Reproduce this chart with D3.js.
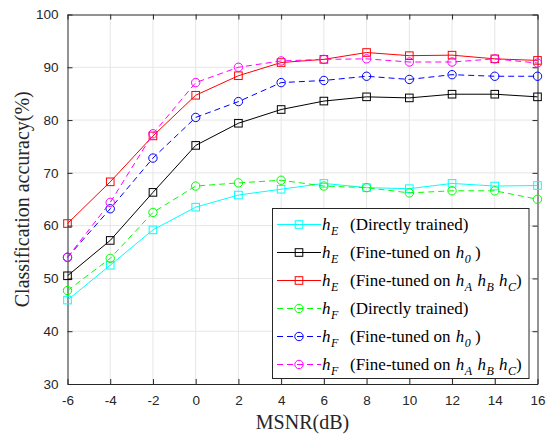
<!DOCTYPE html>
<html>
<head>
<meta charset="UTF-8">
<script src="https://d3js.org/d3.v7.min.js"></script>
<style>
  body { margin: 0; background: #fff; }
  .tick text { font-family: "Liberation Sans", Arial, sans-serif; font-size: 13.5px; fill: #262626; }
  .lbl { font-family: "Liberation Serif", "Times New Roman", serif; fill: #262626; }
  .leg text { font-family: "Liberation Serif", "Times New Roman", serif; font-size: 17px; fill: #000; white-space: pre; }
</style>
</head>
<body>
<svg width="553" height="434"></svg>
<script>
// x categories (MSNR in dB)
var msnr = [-6, -4, -2, 0, 2, 4, 6, 8, 10, 12, 14, 16];
var xTicks = [-6, -4, -2, 0, 2, 4, 6, 8, 10, 12, 14, 16];
var yTicks = [30, 40, 50, 60, 70, 80, 90, 100];

// accuracy (%) per series
var hE_direct = [45.9, 52.5, 59.2, 63.5, 65.8, 66.9, 68.0, 67.2, 67.0, 68.0, 67.5, 67.6];
var hE_h0     = [50.5, 57.2, 66.3, 75.2, 79.4, 82.0, 83.6, 84.4, 84.2, 84.9, 84.9, 84.4];
var hE_hABC   = [60.4, 68.3, 77.0, 84.7, 88.4, 90.9, 91.5, 92.8, 92.2, 92.3, 91.6, 91.3];
var hF_direct = [47.7, 53.8, 62.5, 67.5, 68.1, 68.6, 67.5, 67.2, 66.2, 66.6, 66.6, 65.0];
var hF_h0     = [54.0, 63.2, 72.8, 80.5, 83.5, 87.1, 87.5, 88.3, 87.7, 88.6, 88.3, 88.3];
var hF_hABC   = [54.0, 64.4, 77.4, 87.1, 90.0, 91.2, 91.5, 91.6, 91.0, 91.0, 91.6, 90.8];

var legendLabels = [
  "h_E (Directly trained)",
  "h_E (Fine-tuned on h_0 )",
  "h_E (Fine-tuned on h_A h_B h_C)",
  "h_F (Directly trained)",
  "h_F (Fine-tuned on h_0 )",
  "h_F (Fine-tuned on h_A h_B h_C)"
];

var series = [
  {vals: hE_direct, color: "#00ffff", dash: null,  marker: "square"},
  {vals: hE_h0,     color: "#000000", dash: null,  marker: "square"},
  {vals: hE_hABC,   color: "#ff0000", dash: null,  marker: "square"},
  {vals: hF_direct, color: "#00ff00", dash: "6,4", marker: "circle"},
  {vals: hF_h0,     color: "#0000ff", dash: "6,4", marker: "circle"},
  {vals: hF_hABC,   color: "#ff00ff", dash: "6,4", marker: "circle"}
];

var svg = d3.select("svg");
var pL = 67.5, pR = 537.5, pT = 14.5, pB = 384;

var x = d3.scaleLinear().domain([-6, 16]).range([pL, pR]);
var y = d3.scaleLinear().domain([30, 100]).range([pB, pT]);

// grid
var grid = svg.append("g");
grid.selectAll(".gx").data(xTicks.slice(1, -1)).enter().append("line")
  .attr("x1", d => x(d)).attr("x2", d => x(d))
  .attr("y1", pT).attr("y2", pB)
  .attr("stroke", "#e6e6e6").attr("stroke-width", 1);
grid.selectAll(".gy").data(yTicks.slice(1, -1)).enter().append("line")
  .attr("y1", d => y(d)).attr("y2", d => y(d))
  .attr("x1", pL).attr("x2", pR)
  .attr("stroke", "#e6e6e6").attr("stroke-width", 1);

// axes (ticks pointing inward, box on)
var tl = 5;
var fmt = d => String(d);
svg.append("g").attr("transform", "translate(0," + pB + ")")
  .call(d3.axisBottom(x).tickValues(xTicks).tickFormat(fmt).tickSizeInner(-tl).tickSizeOuter(0).tickPadding(11));
svg.append("g").attr("transform", "translate(" + pL + ",0)")
  .call(d3.axisLeft(y).tickValues(yTicks).tickFormat(fmt).tickSizeInner(-tl).tickSizeOuter(0).tickPadding(9));
svg.append("g").attr("transform", "translate(0," + pT + ")")
  .call(d3.axisTop(x).tickValues(xTicks).tickSizeInner(-tl).tickSizeOuter(0).tickFormat(""));
svg.append("g").attr("transform", "translate(" + pR + ",0)")
  .call(d3.axisRight(y).tickValues(yTicks).tickSizeInner(-tl).tickSizeOuter(0).tickFormat(""));
svg.selectAll(".domain, .tick line").attr("stroke", "#262626");

// series
var line = d3.line().x((d, i) => x(msnr[i])).y(d => y(d));

function drawMarker(g, type, cx, cy, color) {
  if (type === "square") {
    g.append("rect").attr("x", cx - 3.8).attr("y", cy - 3.8)
      .attr("width", 7.6).attr("height", 7.6)
      .attr("fill", "none").attr("stroke", color).attr("stroke-width", 1);
  } else {
    g.append("circle").attr("cx", cx).attr("cy", cy).attr("r", 4.2)
      .attr("fill", "none").attr("stroke", color).attr("stroke-width", 1);
  }
}

series.forEach(function(s) {
  var g = svg.append("g");
  g.append("path").datum(s.vals).attr("d", line)
    .attr("fill", "none").attr("stroke", s.color).attr("stroke-width", 1)
    .attr("stroke-dasharray", s.dash);
  s.vals.forEach(function(v, i) { drawMarker(g, s.marker, x(msnr[i]), y(v), s.color); });
});

// legend
var leg = svg.append("g").attr("class", "leg");
leg.append("rect").attr("x", 272.5).attr("y", 208.5).attr("width", 256.5).attr("height", 170)
  .attr("fill", "#fff").attr("stroke", "#262626").attr("stroke-width", 1);

legendLabels.forEach(function(lab, k) {
  var s = series[k];
  var cy = 224.5 + k * 28;
  leg.append("line").attr("x1", 277).attr("x2", 321).attr("y1", cy).attr("y2", cy)
    .attr("stroke", s.color).attr("stroke-width", 1).attr("stroke-dasharray", s.dash);
  drawMarker(leg, s.marker, 299, cy, s.color);

  var t = leg.append("text").attr("x", 322).attr("y", cy + 5);
  var parts = lab.split(/(h_[A-Z0-9])/).filter(p => p !== "");
  var sub = false, first = true;
  parts.forEach(function(p) {
    if (/^h_/.test(p)) {
      t.append("tspan").attr("font-style", "italic").attr("dy", sub ? -5 : 0)
        .attr("dx", first ? 0 : 1).text("h");
      t.append("tspan").attr("font-style", "italic").attr("font-size", "12px")
        .attr("dy", 5).attr("dx", 0.5).text(p.slice(2));
      sub = true;
    } else {
      var ts = t.append("tspan").attr("dy", sub ? -5 : 0);
      if (first) { ts.attr("x", 350); p = p.replace(/^\s+/, ""); first = false; }
      ts.text(p);
      sub = false;
    }
  });
});

// axis titles
svg.append("text").attr("class", "lbl").attr("x", (pL + pR) / 2).attr("y", 429)
  .attr("text-anchor", "middle").attr("font-size", "20px").text("MSNR(dB)");
svg.append("text").attr("class", "lbl")
  .attr("transform", "translate(29," + ((pT + pB) / 2) + ") rotate(-90)")
  .attr("text-anchor", "middle").attr("font-size", "20px").text("Classification accuracy(%)");
</script>
</body>
</html>
